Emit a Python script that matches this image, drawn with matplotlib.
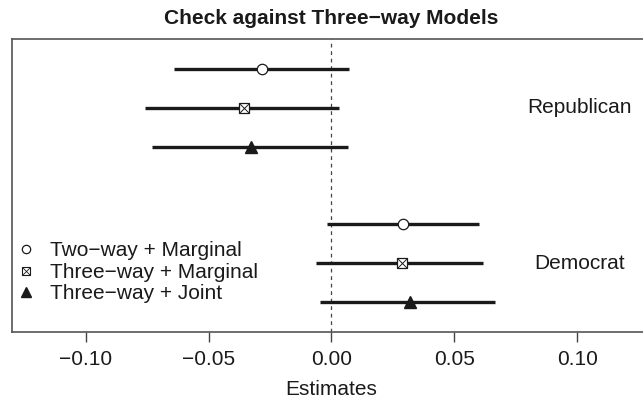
import matplotlib
matplotlib.use("Agg")
import matplotlib.pyplot as plt
from matplotlib.legend_handler import HandlerTuple
from matplotlib.lines import Line2D

plt.rcParams['font.family'] = ['Liberation Sans', 'DejaVu Sans']

# Data (rows top to bottom within each party)
models = ["Two\u2212way + Marginal", "Three\u2212way + Marginal", "Three\u2212way + Joint"]
parties = ["Republican", "Democrat"]
rep_est = [-0.0283, -0.0355, -0.0327]
rep_lo = [-0.0641, -0.0760, -0.0729]
rep_hi = [0.0072, 0.0031, 0.0066]
dem_est = [0.0290, 0.0285, 0.0321]
dem_lo = [-0.0018, -0.0062, -0.0045]
dem_hi = [0.0599, 0.0617, 0.0664]
rep_pos = [7, 6, 5]
dem_pos = [3, 2, 1]
xticks = [-0.10, -0.05, 0.00, 0.05, 0.10]

fig = plt.figure(figsize=(6.43, 4.05), dpi=100)
ax = fig.add_axes([12/643, (405-332)/405, (651-12)/643, (332-39)/405])

ax.axvline(0, color='#444444', lw=0.9, ls=(0, (3, 3)), zorder=1)

def draw(ests, los, his, poss):
    for i, (e, lo, hi, p) in enumerate(zip(ests, los, his, poss)):
        ax.plot([lo, hi], [p, p], color='#1a1a1a', lw=2.4, solid_capstyle='butt', zorder=2)
        if i == 0:
            ax.plot(e, p, 'o', ms=7.5, mfc='white', mec='#1a1a1a', mew=0.9, zorder=3)
        elif i == 1:
            ax.plot(e, p, 's', ms=7.5, mfc='white', mec='#1a1a1a', mew=0.9, zorder=3)
            ax.plot(e, p, 'x', ms=7.0, mec='#1a1a1a', mew=0.7, zorder=4)
        else:
            ax.plot(e, p, '^', ms=8.5, mfc='#1a1a1a', mec='#1a1a1a', zorder=3)

draw(rep_est, rep_lo, rep_hi, rep_pos)
draw(dem_est, dem_lo, dem_hi, dem_pos)

ax.text(0.101, 6, parties[0], ha='center', va='center', fontsize=15, color='#1a1a1a')
ax.text(0.101, 2, parties[1], ha='center', va='center', fontsize=15, color='#1a1a1a')

ax.set_xlim(-0.13, 0.13)
ax.set_ylim(0.22, 7.78)
ax.set_yticks([])
ax.set_xticks(xticks)
ax.set_xticklabels([f"{t:.2f}".replace('-', '\u2212') for t in xticks], fontsize=15, color='#1a1a1a')
ax.tick_params(axis='x', length=7, width=1, color='#444444', pad=6)
for s in ax.spines.values():
    s.set_color('#555555')
    s.set_linewidth(1.2)
ax.set_xlabel("Estimates", fontsize=15, color='#1a1a1a', labelpad=8)
fig.text(331/643, 1-19/405, "Check against Three\u2212way Models", ha='center', va='center',
         fontsize=15, fontweight='bold', color='#1a1a1a')

h1 = Line2D([], [], ls='none', marker='o', ms=6, mfc='white', mec='#1a1a1a', mew=0.9)
h2a = Line2D([], [], ls='none', marker='s', ms=6, mfc='white', mec='#1a1a1a', mew=0.8)
h2b = Line2D([], [], ls='none', marker='x', ms=5.5, mec='#1a1a1a', mew=0.6)
h3 = Line2D([], [], ls='none', marker='^', ms=7, mfc='#1a1a1a', mec='#1a1a1a')
ax.legend([h1, (h2a, h2b), h3], models, loc='lower left', bbox_to_anchor=(-0.017, 0.048),
          frameon=False, fontsize=15, handler_map={tuple: HandlerTuple(ndivide=1, pad=0)},
          handlelength=1.0, handletextpad=0.65, labelspacing=0.12, borderaxespad=0.3,
          labelcolor='#1a1a1a')

fig.savefig("out.png", dpi=100)
